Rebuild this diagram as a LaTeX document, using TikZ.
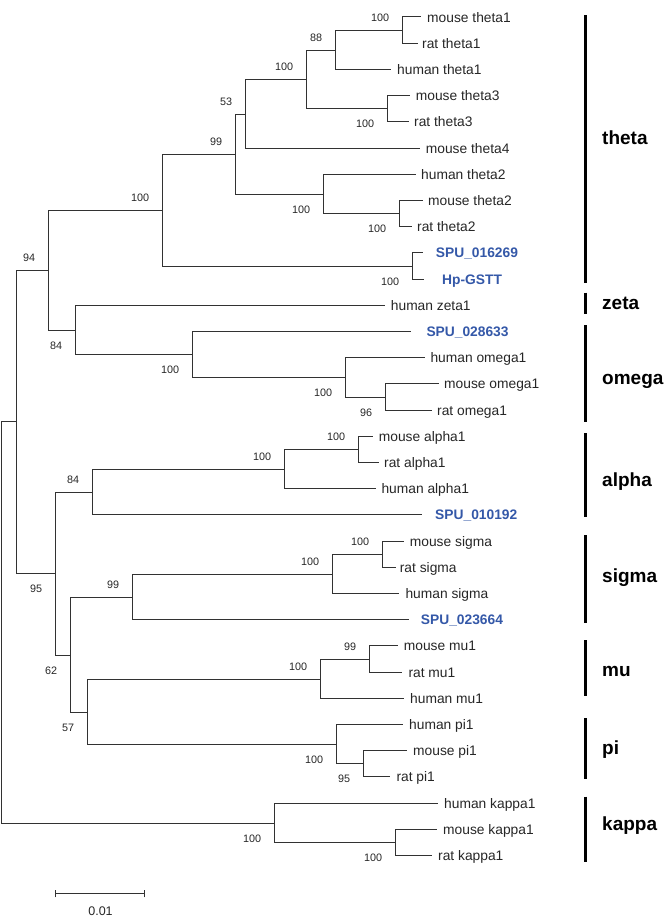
\documentclass[tikz,border=0pt]{standalone}
\usepackage{fontspec}
\setmainfont{Liberation Sans}
\definecolor{treegray}{RGB}{50,50,50}
\definecolor{spublue}{RGB}{52,88,168}
\newcommand{\leaffont}{\fontsize{13.8}{16}\selectfont}
\newcommand{\bsfont}{\fontsize{10.8}{13}\selectfont}
\newcommand{\cladefont}{\fontsize{19}{22}\selectfont\bfseries}
\begin{document}
\begin{tikzpicture}[x=1pt,y=-1pt,
  branch/.style={draw=treegray,line width=1pt},
  leaflab/.style={anchor=base west,inner sep=0pt,font=\leaffont,text=black!85},
  spulab/.style={anchor=base west,inner sep=0pt,font=\leaffont\bfseries,text=spublue},
  bsa/.style={anchor=east,inner sep=0pt,font=\bsfont,text=black!85},
  cladelab/.style={anchor=base west,inner sep=0pt,font=\cladefont},
  cladebar/.style={draw=black,line width=3pt}]
\useasboundingbox (0,0) rectangle (666,916);

% ---- leaf tips and labels
\coordinate (L1) at (421.3,16.5);   \node[leaflab] (T1) at (427,22) {mouse theta1};
\coordinate (L2) at (418,43.5);     \node[leaflab] (T2) at (422,48.2) {rat theta1};
\coordinate (L3) at (391.3,69.5);   \node[leaflab] (T3) at (397,74.4) {human theta1};
\coordinate (L4) at (409.7,95.5);   \node[leaflab] (T4) at (415.7,100.6) {mouse theta3};
\coordinate (L5) at (409,121.5);    \node[leaflab] (T5) at (414,126.8) {rat theta3};
\coordinate (L6) at (420,148.5);    \node[leaflab] (T6) at (425.7,153) {mouse theta4};
\coordinate (L7) at (415.7,174.5);  \node[leaflab] (T7) at (421,179.2) {human theta2};
\coordinate (L8) at (423,200.5);    \node[leaflab] (T8) at (428,205.4) {mouse theta2};
\coordinate (L9) at (412,226.5);    \node[leaflab] (T9) at (417,231.6) {rat theta2};
\coordinate (L10) at (423,252.5);   \node[spulab] (T10) at (435.7,257.8) {SPU\_016269};
\coordinate (L11) at (423.7,279.5); \node[spulab] (T11) at (442,284) {Hp-GSTT};
\coordinate (L12) at (384.7,305.5); \node[leaflab] (T12) at (390.7,310.2) {human zeta1};
\coordinate (L13) at (411.3,331.5); \node[spulab] (T13) at (426.3,336.4) {SPU\_028633};
\coordinate (L14) at (424.7,357.5); \node[leaflab] (T14) at (430.3,362.6) {human omega1};
\coordinate (L15) at (438.7,383.5); \node[leaflab] (T15) at (444,388.8) {mouse omega1};
\coordinate (L16) at (432,410.5);   \node[leaflab] (T16) at (437,415) {rat omega1};
\coordinate (L17) at (373,436.5);   \node[leaflab] (T17) at (378.7,441.2) {mouse alpha1};
\coordinate (L18) at (378.7,462.5); \node[leaflab] (T18) at (384,467.4) {rat alpha1};
\coordinate (L19) at (375.7,488.5); \node[leaflab] (T19) at (381.3,493.6) {human alpha1};
\coordinate (L20) at (422.3,514.5); \node[spulab] (T20) at (435,519.8) {SPU\_010192};
\coordinate (L21) at (404,541.5);   \node[leaflab] (T21) at (409.7,546) {mouse sigma};
\coordinate (L22) at (395.7,567.5); \node[leaflab] (T22) at (399.7,572.2) {rat sigma};
\coordinate (L23) at (399,593.5);   \node[leaflab] (T23) at (405.3,598.4) {human sigma};
\coordinate (L24) at (409,619.5);   \node[spulab] (T24) at (420.7,624.6) {SPU\_023664};
\coordinate (L25) at (398,645.5);   \node[leaflab] (T25) at (403.7,650.8) {mouse mu1};
\coordinate (L26) at (402,672.5);   \node[leaflab] (T26) at (408.3,677) {rat mu1};
\coordinate (L27) at (404,698.5);   \node[leaflab] (T27) at (410,703.2) {human mu1};
\coordinate (L28) at (403,724.5);   \node[leaflab] (T28) at (409,729.4) {human pi1};
\coordinate (L29) at (407,750.5);   \node[leaflab] (T29) at (413,755.6) {mouse pi1};
\coordinate (L30) at (390.3,776.5); \node[leaflab] (T30) at (396.3,781.8) {rat pi1};
\coordinate (L31) at (438,803.5);   \node[leaflab] (T31) at (444,808) {human kappa1};
\coordinate (L32) at (437.3,829.5); \node[leaflab] (T32) at (443,834.2) {mouse kappa1};
\coordinate (L33) at (432.3,855.5); \node[leaflab] (T33) at (438,860.4) {rat kappa1};

% ---- internal nodes
\coordinate (t1) at (402.5,30.5);
\coordinate (n88) at (335.5,50.5);
\coordinate (t3) at (387.5,108.5);
\coordinate (a100) at (306.5,79.5);
\coordinate (n53) at (245.5,114.5);
\coordinate (t2) at (399.5,213.5);
\coordinate (b100) at (323.5,194.5);
\coordinate (n99) at (235.5,154.5);
\coordinate (spu) at (412.5,266.5);
\coordinate (c100) at (162.5,210.5);
\coordinate (o96) at (385.5,397.5);
\coordinate (o100) at (345.5,377.5);
\coordinate (om100) at (192.5,354.5);
\coordinate (n84a) at (75.5,330.5);
\coordinate (n94) at (48.5,270.5);
\coordinate (al) at (358.5,449.5);
\coordinate (al100) at (284.5,469.5);
\coordinate (n84b) at (92.5,492.5);
\coordinate (ms) at (382.5,554.5);
\coordinate (s100) at (332.5,574.5);
\coordinate (s99) at (132.5,597.5);
\coordinate (mu99) at (369.5,659.5);
\coordinate (mu100) at (320.5,679.5);
\coordinate (pi95) at (363.5,763.5);
\coordinate (pi100) at (336.5,744.5);
\coordinate (n57) at (87.5,712.5);
\coordinate (n62) at (70.5,655.5);
\coordinate (n95) at (55.5,573.5);
\coordinate (nA) at (16.5,421.5);
\coordinate (mk) at (395.5,842.5);
\coordinate (k100) at (274.5,823.5);
\coordinate (root) at (1.5,622.5);

% ---- branches
\draw[branch] (t1) |- (L1) (t1) |- (L2);
\draw[branch] (n88) |- (t1) (n88) |- (L3);
\draw[branch] (t3) |- (L4) (t3) |- (L5);
\draw[branch] (a100) |- (n88) (a100) |- (t3);
\draw[branch] (n53) |- (a100) (n53) |- (L6);
\draw[branch] (t2) |- (L8) (t2) |- (L9);
\draw[branch] (b100) |- (L7) (b100) |- (t2);
\draw[branch] (n99) |- (n53) (n99) |- (b100);
\draw[branch] (spu) |- (L10) (spu) |- (L11);
\draw[branch] (c100) |- (n99) (c100) |- (spu);
\draw[branch] (o96) |- (L15) (o96) |- (L16);
\draw[branch] (o100) |- (L14) (o100) |- (o96);
\draw[branch] (om100) |- (L13) (om100) |- (o100);
\draw[branch] (n84a) |- (L12) (n84a) |- (om100);
\draw[branch] (n94) |- (c100) (n94) |- (n84a);
\draw[branch] (al) |- (L17) (al) |- (L18);
\draw[branch] (al100) |- (al) (al100) |- (L19);
\draw[branch] (n84b) |- (al100) (n84b) |- (L20);
\draw[branch] (ms) |- (L21) (ms) |- (L22);
\draw[branch] (s100) |- (ms) (s100) |- (L23);
\draw[branch] (s99) |- (s100) (s99) |- (L24);
\draw[branch] (mu99) |- (L25) (mu99) |- (L26);
\draw[branch] (mu100) |- (mu99) (mu100) |- (L27);
\draw[branch] (pi95) |- (L29) (pi95) |- (L30);
\draw[branch] (pi100) |- (L28) (pi100) |- (pi95);
\draw[branch] (n57) |- (mu100) (n57) |- (pi100);
\draw[branch] (n62) |- (s99) (n62) |- (n57);
\draw[branch] (n95) |- (n84b) (n95) |- (n62);
\draw[branch] (nA) |- (n94) (nA) |- (n95);
\draw[branch] (mk) |- (L32) (mk) |- (L33);
\draw[branch] (k100) |- (L31) (k100) |- (mk);
\draw[branch] (root) |- (nA) (root) |- (k100);

% ---- bootstrap values (above: -12.5, below: +15)
\node[bsa] (bt1) at ([shift={(-13.2,-12.5)}]t1) {100};
\node[bsa] (b88) at ([shift={(-13.2,-12.5)}]n88) {88};
\node[bsa] (bt3) at ([shift={(-13.2,15)}]t3) {100};
\node[bsa] (ba100) at ([shift={(-13.2,-12.5)}]a100) {100};
\node[bsa] (b53) at ([shift={(-13.2,-12.5)}]n53) {53};
\node[bsa] (bt2) at ([shift={(-13.2,15)}]t2) {100};
\node[bsa] (bb100) at ([shift={(-13.2,15)}]b100) {100};
\node[bsa] (b99) at ([shift={(-13.2,-12.5)}]n99) {99};
\node[bsa] (bspu) at ([shift={(-13.2,15)}]spu) {100};
\node[bsa] (bc100) at ([shift={(-13.2,-12.5)}]c100) {100};
\node[bsa] (b94) at ([shift={(-13.2,-12.5)}]n94) {94};
\node[bsa] (b84a) at ([shift={(-13.2,15)}]n84a) {84};
\node[bsa] (bom100) at ([shift={(-13.2,15)}]om100) {100};
\node[bsa] (bo100) at ([shift={(-13.2,15)}]o100) {100};
\node[bsa] (b96) at ([shift={(-13.2,15)}]o96) {96};
\node[bsa] (bal) at ([shift={(-13.2,-12.5)}]al) {100};
\node[bsa] (bal100) at ([shift={(-13.2,-12.5)}]al100) {100};
\node[bsa] (b84b) at ([shift={(-13.2,-12.5)}]n84b) {84};
\node[bsa] (bms) at ([shift={(-13.2,-12.5)}]ms) {100};
\node[bsa] (bs100) at ([shift={(-13.2,-12.5)}]s100) {100};
\node[bsa] (bs99) at ([shift={(-13.2,-12.5)}]s99) {99};
\node[bsa] (b95) at ([shift={(-13.2,15)}]n95) {95};
\node[bsa] (b62) at ([shift={(-13.2,15)}]n62) {62};
\node[bsa] (bmu99) at ([shift={(-13.2,-12.5)}]mu99) {99};
\node[bsa] (bmu100) at ([shift={(-13.2,-12.5)}]mu100) {100};
\node[bsa] (b57) at ([shift={(-13.2,15)}]n57) {57};
\node[bsa] (bpi100) at ([shift={(-13.2,15)}]pi100) {100};
\node[bsa] (bpi95) at ([shift={(-13.2,15)}]pi95) {95};
\node[bsa] (bk100) at ([shift={(-13.2,15)}]k100) {100};
\node[bsa] (bmk) at ([shift={(-13.2,15)}]mk) {100};

% ---- clade bars and names
\coordinate (thetaA) at (585.5,15);    \coordinate (thetaB) at (585.5,283.3);
\coordinate (zetaA) at (585.5,292.7);  \coordinate (zetaB) at (585.5,314);
\coordinate (omegaA) at (585.5,325);   \coordinate (omegaB) at (585.5,421.7);
\coordinate (alphaA) at (585.5,433.3); \coordinate (alphaB) at (585.5,517.3);
\coordinate (sigmaA) at (585.5,535);   \coordinate (sigmaB) at (585.5,622.7);
\coordinate (muA) at (585.5,640);      \coordinate (muB) at (585.5,696);
\coordinate (piA) at (585.5,718.3);    \coordinate (piB) at (585.5,779);
\coordinate (kappaA) at (585.5,796.7); \coordinate (kappaB) at (585.5,862.3);
\draw[cladebar] (thetaA) -- (thetaB);
\draw[cladebar] (zetaA) -- (zetaB);
\draw[cladebar] (omegaA) -- (omegaB);
\draw[cladebar] (alphaA) -- (alphaB);
\draw[cladebar] (sigmaA) -- (sigmaB);
\draw[cladebar] (muA) -- (muB);
\draw[cladebar] (piA) -- (piB);
\draw[cladebar] (kappaA) -- (kappaB);
\node[cladelab] (ctheta) at (602,144.3) {theta};
\node[cladelab] (czeta) at (602,309.3) {zeta};
\node[cladelab] (comega) at (602,384.3) {omega};
\node[cladelab] (calpha) at (602,486.7) {alpha};
\node[cladelab] (csigma) at (602,582.3) {sigma};
\node[cladelab] (cmu) at (602,676.7) {mu};
\node[cladelab] (cpi) at (602,754) {pi};
\node[cladelab] (ckappa) at (602,830.7) {kappa};

% ---- scale bar
\coordinate (sbL) at (55.5,893.5);
\coordinate (sbR) at (144.5,893.5);
\draw[branch] (sbL) -- (sbR);
\draw[branch] ([yshift=-3.8pt]sbL) -- ([yshift=3.8pt]sbL);
\draw[branch] ([yshift=-3.8pt]sbR) -- ([yshift=3.8pt]sbR);
\node[anchor=base,inner sep=0pt,font=\fontsize{12.5}{14}\selectfont,text=black!85] (sblab) at (100.5,915) {0.01};
\end{tikzpicture}
\end{document}
